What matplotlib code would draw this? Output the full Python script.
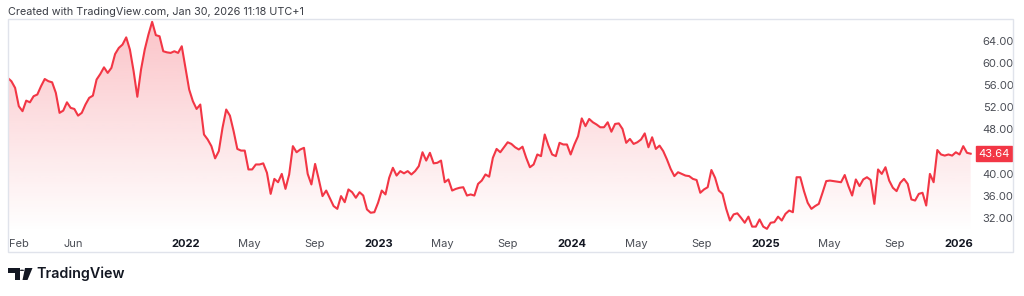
import numpy as np
import pandas as pd
import matplotlib
matplotlib.use("Agg")
import matplotlib.pyplot as plt
import matplotlib.dates as mdates
from matplotlib.patches import Rectangle, Polygon, Circle

plt.rcParams['font.family'] = ['Inter', 'DejaVu Sans']

# weekly closes
start_date = '2021-01-29'
prices_2021 = [57.3, 56.7, 55.5, 52.2, 51.3, 53.2, 52.9, 54.0, 54.3, 55.8, 57.1, 56.7,
               56.5, 54.6, 51.0, 51.4, 52.9, 51.9, 51.7, 50.5, 51.0, 52.5, 53.7, 54.1,
               57.0, 58.0, 59.2, 58.2, 59.1, 61.6, 62.7, 63.3, 64.6, 62.4, 58.5, 53.9,
               58.8, 62.4, 65.1, 67.4, 65.0, 64.8, 62.1, 61.9]
prices_2022 = [61.8, 62.1, 61.8, 63.0, 59.1, 55.2, 53.1, 51.7, 52.5, 47.1, 46.2, 45.0,
               42.8, 44.1, 48.3, 51.6, 50.5, 47.7, 44.5, 44.2, 44.2, 40.8, 40.8, 41.7,
               41.7, 41.9, 40.2, 36.4, 39.1, 38.5, 40.0, 37.3, 39.9, 45.0, 43.9, 44.4,
               44.7, 40.0, 38.1, 41.8, 39.0, 36.0, 37.0, 35.6]
prices_2023 = [34.2, 33.7, 36.0, 34.9, 37.2, 36.7, 35.7, 36.7, 36.1, 33.6, 33.0, 33.1,
               34.8, 37.0, 36.3, 39.3, 41.1, 39.7, 40.5, 40.1, 40.5, 39.9, 40.5, 41.4,
               43.9, 42.4, 43.8, 41.9, 42.0, 42.4, 38.5, 39.0, 37.0, 37.3, 37.5, 37.6,
               36.1, 36.3, 36.1, 38.2, 38.8, 39.9, 39.5]
prices_2024 = [42.9, 44.5, 43.9, 44.8, 45.7, 45.4, 44.8, 44.4, 44.9, 42.9, 41.2, 41.7,
               43.5, 43.2, 47.1, 45.1, 43.5, 43.2, 45.6, 45.3, 45.3, 43.5, 45.3, 46.8,
               50.0, 48.6, 49.9, 49.3, 48.9, 48.4, 48.4, 49.3, 47.6, 49.0, 49.1, 48.1,
               45.6, 46.3, 45.4, 45.7, 46.2, 47.3, 44.8]
prices_2025a = [46.6, 44.5, 45.1, 44.1, 42.6, 40.9, 39.6, 40.3, 40.0, 39.7, 39.6, 39.1,
                38.9, 36.6, 37.2, 37.6, 40.7, 39.3, 37.0, 36.4, 33.7, 31.6, 32.7, 32.9,
                32.1, 31.2, 32.3, 30.5, 30.5, 31.8, 30.5, 30.1, 31.2, 31.3, 32.3, 31.6,
                32.8, 33.4, 33.1, 39.4, 39.4, 36.9, 34.8]
prices_2025b = [33.7, 34.2, 34.6, 36.6, 38.7, 38.8, 38.7, 38.6, 38.5, 39.8, 37.8, 36.1,
                39.0, 37.8, 39.0, 39.4, 38.9, 34.6, 40.8, 40.0, 41.2, 38.8, 37.5, 36.9,
                38.4, 39.1, 38.2, 35.4, 35.2, 36.4, 36.6, 34.3, 40.0, 38.5, 44.3, 43.5,
                43.3, 43.5, 43.3, 43.9, 43.5, 45.0, 43.8, 43.64]

prices = prices_2021 + prices_2022 + prices_2023 + prices_2024 + prices_2025a + prices_2025b
dates = pd.date_range(start_date, periods=len(prices), freq='7D')

tick_dates = ['2021-02-01', '2021-06-01', '2022-01-01', '2022-05-01', '2022-09-01',
              '2023-01-01', '2023-05-01', '2023-09-01', '2024-01-01', '2024-05-01',
              '2024-09-01', '2025-01-01', '2025-05-01', '2025-09-01', '2026-01-01']
tick_labels = ['Feb', 'Jun', '2022', 'May', 'Sep', '2023', 'May', 'Sep', '2024', 'May',
               'Sep', '2025', 'May', 'Sep', '2026']
price_ticks = [32, 36, 40, 48, 52, 56, 60, 64]
last_price = prices[-1]

RED = '#f23645'
TEXT = '#131722'
W, H = 1024, 296

fig = plt.figure(figsize=(W / 100, H / 100), dpi=100)
fig.patch.set_facecolor('white')

# pane in pixels: x 8..975, y 19..232
ax = fig.add_axes([8 / W, 1 - 232 / H, (975 - 8) / W, (232 - 19) / H])
ax.set_facecolor('none')
for s in ax.spines.values():
    s.set_visible(False)

x = mdates.date2num(dates)
ref = mdates.date2num(pd.Timestamp('2022-01-01'))
px_per_day = 0.5291
ax.set_xlim(ref + (8 - 186) / px_per_day, ref + (975 - 186) / px_per_day)
ymin, ymax = 64 - (232 - 40.7) / 5.55, 64 - (19 - 40.7) / 5.55
ax.set_ylim(ymin, ymax)

# gradient area under the line
verts = [(x[0], ymin)] + list(zip(x, prices)) + [(x[-1], ymin)]
clip = Polygon(verts, closed=True, facecolor='none', edgecolor='none', transform=ax.transData)
ax.add_patch(clip)
n = 256
grad = np.zeros((n, 1, 4))
grad[..., 0], grad[..., 1], grad[..., 2] = 242 / 255, 54 / 255, 69 / 255
grad[:, 0, 3] = np.linspace(0.30, 0.0, n)
im = ax.imshow(grad, extent=[x[0], x[-1], ymin, ymax], aspect='auto', origin='upper',
               interpolation='bilinear', zorder=1)
im.set_clip_path(clip)

ax.plot(x, prices, color=RED, lw=1.5, zorder=3, solid_joinstyle='round')

# time axis
ax.set_xticks(mdates.date2num(pd.to_datetime(tick_dates)))
ax.set_xticklabels(tick_labels)
ax.tick_params(axis='x', length=0, pad=5, labelsize=8, labelcolor='#4a4d55')
for i, lab in enumerate(ax.get_xticklabels()):
    if lab.get_text().isdigit():
        lab.set_fontweight('bold')
        lab.set_color(TEXT)
    if i == 0:
        lab.set_ha('left')

# price axis
ax.yaxis.tick_right()
ax.set_yticks(price_ticks)
ax.set_yticklabels([f'{p:.2f}' for p in price_ticks])
ax.tick_params(axis='y', length=0, pad=5.5, labelsize=8, labelcolor='#4a4d55')

# last price badge
ax.annotate(f'{last_price:.2f}', xy=(1.0, last_price), xycoords=('axes fraction', 'data'),
            xytext=(19, 0), textcoords='offset pixels', ha='center', va='center',
            fontsize=8, color='white',
            bbox=dict(boxstyle='square,pad=0.25', fc=RED, ec=RED))

# frame round pane + price scale
fig.patches.append(Rectangle((8 / W, 1 - 252 / H), (1013 - 8) / W, (252 - 19) / H,
                             transform=fig.transFigure, fill=False, ec='#e0e3eb', lw=1))

fig.text(8 / W, 1 - 12 / H, 'Created with TradingView.com, Jan 30, 2026 11:18 UTC+1',
         ha='left', va='center', fontsize=7.8, color='#3a3d45')

# logo
def fx(px):
    return px / W

def fy(py):
    return 1 - py / H

logo = [
    Polygon([(fx(8), fy(268)), (fx(19.5), fy(268)), (fx(19.5), fy(280)), (fx(14.5), fy(280)),
             (fx(14.5), fy(272.5)), (fx(8), fy(272.5))], closed=True),
    Polygon([(fx(25), fy(268)), (fx(32.5), fy(268)), (fx(27.5), fy(280)), (fx(22.5), fy(280))],
            closed=True),
]
for p in logo:
    p.set_transform(fig.transFigure)
    p.set_facecolor(TEXT)
    p.set_edgecolor('none')
    fig.patches.append(p)
fig.patches.append(Circle((fx(22), fy(270.3)), 2.3 / W, transform=fig.transFigure,
                          fc=TEXT, ec='none'))
fig.text(fx(36), fy(274), 'TradingView', ha='left', va='center', fontsize=10.3,
         fontweight='semibold', color=TEXT)

fig.savefig('out.png', dpi=100, facecolor='white')
